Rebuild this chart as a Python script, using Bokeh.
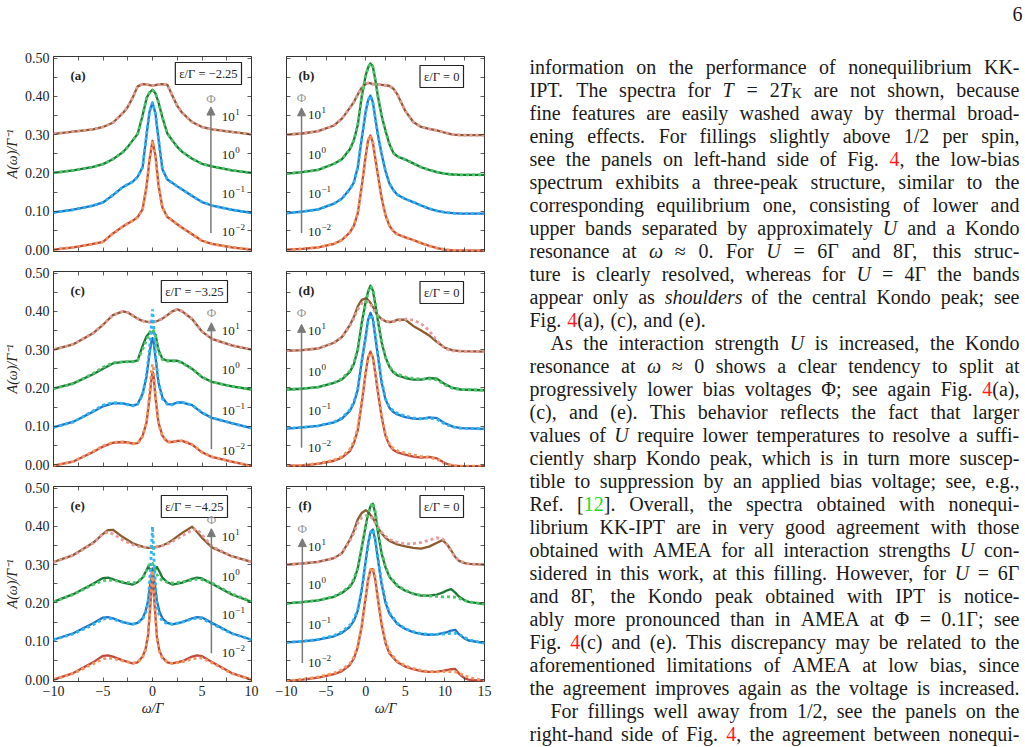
from bokeh.plotting import figure
from bokeh.models import (Range1d, LinearAxis, FixedTicker, Label, Arrow, NormalHead,
                          ColumnDataSource, NumeralTickFormatter, CustomJSTickFormatter)
from bokeh.layouts import row, column
from bokeh.embed import file_html
from bokeh.resources import INLINE
from bokeh.core.properties import value

SERIF = "Liberation Serif"

# ---------------- data ----------------
# curve order in every panel: Phi = 10^1, 10^0, 10^-1, 10^-2 (offset by 0.3, 0.2, 0.1, 0)
x_a = [-10, -8, -6, -5, -4, -3, -2.5, -2, -1.5, -1, -0.6, -0.3, 0, 0.3, 0.6, 1, 1.5, 2, 2.5, 3, 4, 5, 6, 8, 10]
a_p1 = [0.302, 0.308, 0.314, 0.320, 0.331, 0.356, 0.372, 0.397, 0.426, 0.432, 0.431, 0.429, 0.428, 0.429, 0.431, 0.432, 0.430, 0.402, 0.375, 0.357, 0.333, 0.320, 0.314, 0.307, 0.301]
a_p0 = [0.200, 0.207, 0.216, 0.223, 0.236, 0.254, 0.268, 0.285, 0.302, 0.350, 0.395, 0.410, 0.417, 0.408, 0.385, 0.345, 0.303, 0.285, 0.268, 0.255, 0.237, 0.224, 0.217, 0.207, 0.200]
a_m1 = [0.097, 0.104, 0.115, 0.123, 0.142, 0.163, 0.170, 0.177, 0.190, 0.215, 0.300, 0.360, 0.384, 0.355, 0.290, 0.210, 0.183, 0.174, 0.165, 0.157, 0.140, 0.124, 0.115, 0.104, 0.096]
a_m2 = [0.000, 0.006, 0.015, 0.020, 0.042, 0.060, 0.068, 0.075, 0.085, 0.105, 0.165, 0.235, 0.284, 0.245, 0.170, 0.110, 0.085, 0.076, 0.066, 0.057, 0.040, 0.023, 0.015, 0.006, 0.000]

x_b = [-10, -8, -6, -4, -3, -2, -1.5, -1, -0.5, 0, 0.3, 0.6, 0.9, 1.2, 1.5, 2, 2.5, 3, 3.5, 4, 5, 6, 7, 8, 9, 10, 11, 12, 15]
b_p1 = [0.300, 0.303, 0.309, 0.324, 0.342, 0.370, 0.385, 0.405, 0.423, 0.432, 0.435, 0.434, 0.432, 0.432, 0.431, 0.430, 0.429, 0.427, 0.420, 0.405, 0.362, 0.333, 0.320, 0.315, 0.311, 0.305, 0.300, 0.299, 0.299]
b_p0 = [0.198, 0.202, 0.208, 0.224, 0.236, 0.262, 0.285, 0.325, 0.400, 0.455, 0.475, 0.486, 0.478, 0.445, 0.405, 0.350, 0.310, 0.275, 0.252, 0.243, 0.235, 0.225, 0.215, 0.208, 0.202, 0.198, 0.196, 0.195, 0.195]
b_m1 = [0.095, 0.099, 0.105, 0.120, 0.133, 0.158, 0.175, 0.215, 0.290, 0.360, 0.390, 0.402, 0.385, 0.345, 0.305, 0.250, 0.205, 0.172, 0.155, 0.143, 0.132, 0.124, 0.115, 0.107, 0.101, 0.097, 0.095, 0.094, 0.094]
b_m2 = [0.000, 0.002, 0.006, 0.015, 0.025, 0.045, 0.062, 0.095, 0.165, 0.245, 0.285, 0.298, 0.280, 0.240, 0.200, 0.135, 0.090, 0.062, 0.048, 0.040, 0.032, 0.025, 0.017, 0.010, 0.004, 0.000, -0.002, -0.002, -0.003]

x_c = [-10, -8, -6, -5, -4, -3, -2.5, -2, -1.5, -1, -0.6, -0.3, -0.1, 0, 0.1, 0.3, 0.6, 1, 1.5, 2, 2.5, 3, 4, 5, 6, 8, 10]
c_p1 = [0.300, 0.314, 0.343, 0.365, 0.390, 0.400, 0.397, 0.389, 0.381, 0.375, 0.373, 0.372, 0.372, 0.372, 0.372, 0.373, 0.376, 0.381, 0.390, 0.400, 0.405, 0.400, 0.380, 0.347, 0.328, 0.311, 0.300]
c_p0 = [0.198, 0.212, 0.236, 0.250, 0.264, 0.268, 0.269, 0.269, 0.272, 0.310, 0.335, 0.344, 0.345, 0.345, 0.344, 0.340, 0.300, 0.276, 0.271, 0.271, 0.271, 0.266, 0.250, 0.228, 0.216, 0.204, 0.196]
c_p0_d = [0.198, 0.211, 0.238, 0.254, 0.266, 0.268, 0.268, 0.268, 0.272, 0.300, 0.325, 0.345, 0.352, 0.354, 0.350, 0.335, 0.295, 0.274, 0.270, 0.270, 0.270, 0.265, 0.250, 0.229, 0.216, 0.204, 0.196]
c_m1 = [0.097, 0.112, 0.138, 0.152, 0.160, 0.160, 0.157, 0.154, 0.158, 0.185, 0.230, 0.290, 0.322, 0.330, 0.322, 0.280, 0.215, 0.175, 0.158, 0.157, 0.162, 0.162, 0.155, 0.135, 0.122, 0.108, 0.095]
c_m1_d = [0.097, 0.111, 0.140, 0.155, 0.162, 0.160, 0.156, 0.153, 0.157, 0.182, 0.235, 0.300, 0.370, 0.405, 0.370, 0.290, 0.215, 0.172, 0.157, 0.156, 0.161, 0.163, 0.155, 0.136, 0.122, 0.108, 0.095]
c_m2 = [-0.003, 0.008, 0.033, 0.047, 0.057, 0.059, 0.058, 0.055, 0.056, 0.075, 0.110, 0.175, 0.225, 0.242, 0.235, 0.175, 0.110, 0.075, 0.060, 0.059, 0.062, 0.062, 0.052, 0.032, 0.020, 0.008, -0.004]
c_m2_d = [-0.003, 0.008, 0.034, 0.049, 0.058, 0.059, 0.057, 0.054, 0.055, 0.073, 0.110, 0.180, 0.245, 0.262, 0.250, 0.180, 0.108, 0.073, 0.059, 0.058, 0.061, 0.062, 0.053, 0.033, 0.020, 0.008, -0.004]

x_d = [-10, -8, -6, -4, -3, -2, -1.5, -1, -0.5, 0, 0.3, 0.6, 0.9, 1.2, 1.5, 2, 2.5, 3, 3.5, 4, 5, 6, 7, 8, 9, 10, 11, 12, 15]
d_p1 = [0.297, 0.299, 0.303, 0.318, 0.333, 0.364, 0.385, 0.413, 0.430, 0.434, 0.430, 0.422, 0.412, 0.400, 0.390, 0.380, 0.374, 0.372, 0.374, 0.378, 0.378, 0.362, 0.350, 0.337, 0.320, 0.305, 0.298, 0.296, 0.295]
d_p1_d = [0.297, 0.299, 0.303, 0.318, 0.333, 0.362, 0.382, 0.405, 0.420, 0.427, 0.425, 0.418, 0.408, 0.398, 0.390, 0.380, 0.375, 0.373, 0.373, 0.375, 0.380, 0.377, 0.368, 0.350, 0.323, 0.303, 0.297, 0.296, 0.295]
d_p0 = [0.196, 0.198, 0.202, 0.213, 0.222, 0.242, 0.262, 0.300, 0.370, 0.425, 0.452, 0.467, 0.455, 0.420, 0.380, 0.320, 0.280, 0.255, 0.240, 0.233, 0.226, 0.222, 0.222, 0.226, 0.224, 0.210, 0.200, 0.196, 0.194]
d_p0_d = [0.196, 0.198, 0.202, 0.214, 0.224, 0.245, 0.265, 0.300, 0.365, 0.420, 0.450, 0.466, 0.458, 0.425, 0.383, 0.322, 0.280, 0.256, 0.242, 0.236, 0.229, 0.225, 0.223, 0.224, 0.221, 0.208, 0.199, 0.196, 0.194]
d_m1 = [0.094, 0.097, 0.101, 0.110, 0.120, 0.140, 0.160, 0.195, 0.270, 0.335, 0.378, 0.396, 0.380, 0.335, 0.290, 0.215, 0.170, 0.148, 0.137, 0.131, 0.124, 0.120, 0.119, 0.123, 0.121, 0.108, 0.099, 0.095, 0.093]
d_m1_d = [0.094, 0.097, 0.101, 0.111, 0.122, 0.143, 0.163, 0.198, 0.270, 0.332, 0.372, 0.392, 0.382, 0.340, 0.295, 0.220, 0.172, 0.150, 0.140, 0.134, 0.127, 0.122, 0.120, 0.121, 0.118, 0.106, 0.098, 0.095, 0.093]
d_m2 = [-0.003, -0.002, 0.002, 0.010, 0.018, 0.035, 0.055, 0.090, 0.160, 0.240, 0.280, 0.295, 0.280, 0.240, 0.195, 0.125, 0.075, 0.050, 0.038, 0.032, 0.026, 0.021, 0.018, 0.020, 0.016, 0.004, -0.003, -0.004, -0.004]
d_m2_d = [-0.003, -0.002, 0.003, 0.012, 0.021, 0.040, 0.060, 0.095, 0.165, 0.240, 0.278, 0.292, 0.280, 0.243, 0.200, 0.130, 0.080, 0.054, 0.042, 0.036, 0.030, 0.025, 0.021, 0.019, 0.014, 0.003, -0.003, -0.004, -0.004]

x_e = [-10, -8, -6, -5, -4.5, -4, -3, -2, -1.5, -1, -0.7, -0.45, -0.2, 0, 0.2, 0.45, 0.7, 1, 1.5, 2, 3, 4, 4.5, 5, 6, 8, 10]
e_p1 = [0.307, 0.325, 0.357, 0.380, 0.390, 0.391, 0.372, 0.356, 0.351, 0.347, 0.345, 0.344, 0.344, 0.344, 0.345, 0.346, 0.348, 0.350, 0.356, 0.364, 0.383, 0.399, 0.385, 0.370, 0.345, 0.322, 0.307]
e_p1_d = [0.306, 0.324, 0.356, 0.381, 0.385, 0.380, 0.364, 0.352, 0.348, 0.346, 0.346, 0.346, 0.346, 0.346, 0.346, 0.347, 0.348, 0.350, 0.354, 0.360, 0.375, 0.390, 0.393, 0.378, 0.348, 0.322, 0.307]
e_p0 = [0.203, 0.223, 0.250, 0.265, 0.266, 0.262, 0.253, 0.248, 0.254, 0.266, 0.281, 0.294, 0.286, 0.280, 0.286, 0.294, 0.282, 0.266, 0.254, 0.248, 0.253, 0.263, 0.266, 0.264, 0.250, 0.222, 0.203]
e_p0_d = [0.203, 0.222, 0.248, 0.258, 0.260, 0.259, 0.255, 0.252, 0.256, 0.265, 0.278, 0.294, 0.306, 0.303, 0.290, 0.274, 0.265, 0.258, 0.254, 0.252, 0.255, 0.260, 0.262, 0.261, 0.252, 0.224, 0.204]
e_m1 = [0.104, 0.121, 0.147, 0.162, 0.163, 0.160, 0.150, 0.144, 0.148, 0.160, 0.178, 0.205, 0.255, 0.290, 0.255, 0.205, 0.178, 0.160, 0.148, 0.144, 0.150, 0.160, 0.163, 0.162, 0.148, 0.121, 0.104]
e_m1_d = [0.104, 0.119, 0.143, 0.158, 0.160, 0.158, 0.150, 0.145, 0.148, 0.158, 0.172, 0.200, 0.290, 0.400, 0.290, 0.190, 0.165, 0.152, 0.146, 0.145, 0.150, 0.158, 0.160, 0.159, 0.146, 0.120, 0.104]
e_m2 = [0.000, 0.017, 0.045, 0.062, 0.063, 0.060, 0.050, 0.042, 0.045, 0.060, 0.080, 0.115, 0.200, 0.280, 0.200, 0.110, 0.075, 0.058, 0.045, 0.042, 0.048, 0.060, 0.063, 0.061, 0.046, 0.017, 0.000]
e_m2_d = [0.000, 0.016, 0.041, 0.054, 0.056, 0.055, 0.049, 0.043, 0.045, 0.058, 0.078, 0.115, 0.205, 0.285, 0.205, 0.110, 0.073, 0.056, 0.045, 0.042, 0.046, 0.054, 0.056, 0.056, 0.044, 0.016, 0.000]

x_f = [-10, -8, -6, -4, -3, -2, -1.5, -1, -0.5, 0, 0.3, 0.6, 0.9, 1.2, 1.5, 2, 2.5, 3, 4, 5, 6, 7, 8, 9, 9.7, 10.3, 10.8, 11.3, 11.8, 12.5, 13, 15]
f_p1 = [0.300, 0.303, 0.307, 0.317, 0.330, 0.365, 0.388, 0.418, 0.435, 0.442, 0.438, 0.430, 0.422, 0.410, 0.398, 0.382, 0.370, 0.362, 0.353, 0.348, 0.344, 0.342, 0.347, 0.357, 0.364, 0.352, 0.337, 0.320, 0.310, 0.304, 0.302, 0.300]
f_p1_d = [0.300, 0.303, 0.307, 0.317, 0.330, 0.362, 0.383, 0.408, 0.423, 0.428, 0.428, 0.426, 0.420, 0.410, 0.400, 0.385, 0.374, 0.366, 0.358, 0.354, 0.355, 0.358, 0.364, 0.370, 0.368, 0.352, 0.336, 0.320, 0.310, 0.304, 0.302, 0.300]
f_p0 = [0.199, 0.202, 0.207, 0.216, 0.226, 0.242, 0.258, 0.290, 0.345, 0.402, 0.432, 0.452, 0.459, 0.435, 0.390, 0.330, 0.293, 0.268, 0.244, 0.232, 0.224, 0.219, 0.219, 0.222, 0.227, 0.233, 0.236, 0.227, 0.216, 0.207, 0.203, 0.197]
f_p0_d = [0.199, 0.202, 0.207, 0.217, 0.228, 0.245, 0.262, 0.292, 0.345, 0.400, 0.430, 0.452, 0.462, 0.440, 0.395, 0.333, 0.295, 0.270, 0.246, 0.233, 0.225, 0.220, 0.218, 0.217, 0.216, 0.216, 0.216, 0.215, 0.212, 0.206, 0.203, 0.197]
f_m1 = [0.097, 0.100, 0.104, 0.113, 0.122, 0.138, 0.153, 0.180, 0.235, 0.310, 0.355, 0.385, 0.392, 0.365, 0.320, 0.250, 0.200, 0.172, 0.145, 0.132, 0.124, 0.119, 0.117, 0.118, 0.121, 0.124, 0.128, 0.130, 0.118, 0.107, 0.102, 0.095]
f_m1_d = [0.097, 0.100, 0.105, 0.115, 0.125, 0.142, 0.157, 0.183, 0.235, 0.305, 0.350, 0.382, 0.392, 0.368, 0.325, 0.255, 0.205, 0.175, 0.147, 0.133, 0.125, 0.120, 0.118, 0.118, 0.119, 0.120, 0.121, 0.121, 0.118, 0.110, 0.104, 0.095]
f_m2 = [-0.004, 0.000, 0.005, 0.014, 0.022, 0.038, 0.055, 0.085, 0.140, 0.215, 0.260, 0.287, 0.288, 0.262, 0.215, 0.145, 0.095, 0.068, 0.045, 0.034, 0.027, 0.022, 0.020, 0.021, 0.023, 0.025, 0.027, 0.028, 0.015, 0.003, 0.000, -0.004]
f_m2_d = [-0.004, 0.001, 0.007, 0.017, 0.026, 0.042, 0.058, 0.088, 0.140, 0.212, 0.258, 0.287, 0.292, 0.268, 0.220, 0.150, 0.100, 0.072, 0.048, 0.036, 0.029, 0.024, 0.021, 0.020, 0.021, 0.021, 0.021, 0.020, 0.017, 0.010, 0.006, -0.003]

phi_exponents = ["1", "0", "\u22121", "\u22122"]
eps_labels = ["\u03b5/\u0393 = \u22122.25", "\u03b5/\u0393 = 0", "\u03b5/\u0393 = \u22123.25",
              "\u03b5/\u0393 = 0", "\u03b5/\u0393 = \u22124.25", "\u03b5/\u0393 = 0"]
panel_tags = ["(a)", "(b)", "(c)", "(d)", "(e)", "(f)"]

SOLID = ["#8c5c2e", "#1c7a34", "#1c74c4", "#c24a3a"]
DASHED = ["#e59a9b", "#4cc66a", "#30b4f2", "#f5975c"]

# ---------------- styling helpers ----------------
TXT = "#222222"
Y_RANGE = (-0.005, 0.504)


def make_axis(ticks, minor, show_labels, fmt=None, overrides=None, label=None, italic_label=True):
    ax = LinearAxis(ticker=FixedTicker(ticks=ticks, minor_ticks=minor))
    ax.axis_line_color = None
    ax.major_tick_in = 4
    ax.major_tick_out = 0
    ax.minor_tick_in = 4
    ax.minor_tick_out = 0
    ax.major_tick_line_color = "#333333"
    ax.minor_tick_line_color = "#333333"
    ax.major_tick_line_width = 0.8
    ax.minor_tick_line_width = 0.8
    if show_labels:
        ax.major_label_text_font = SERIF
        ax.major_label_text_font_size = "14px"
        ax.major_label_text_color = TXT
        ax.major_label_standoff = 4
        if fmt is not None:
            ax.formatter = fmt
        if overrides:
            ax.major_label_overrides = overrides
    else:
        ax.formatter = CustomJSTickFormatter(code="return ''")
        ax.major_label_text_font_size = "1px"
        ax.major_label_standoff = 0
    if label:
        ax.axis_label = label
        ax.axis_label_text_font = SERIF
        ax.axis_label_text_font_size = "14px"
        ax.axis_label_text_font_style = "italic" if italic_label else "normal"
        ax.axis_label_text_color = TXT
        ax.axis_label_standoff = 2
    return ax


def make_panel(idx, xs, solids, dashes, xr, width, height, borders, ylab, xlab, annot):
    left, right, top, bottom = borders
    p = figure(width=width, height=height, x_range=Range1d(*xr), y_range=Range1d(*Y_RANGE),
               output_backend="svg", toolbar_location=None,
               x_axis_location=None, y_axis_location=None,
               min_border_left=left, min_border_right=right,
               min_border_top=top, min_border_bottom=bottom)
    p.grid.visible = False
    p.outline_line_color = "#333333"
    p.outline_line_width = 1
    p.background_fill_color = "white"
    p.border_fill_color = "white"

    xmaj = [t for t in [-10, -5, 0, 5, 10, 15] if t <= xr[1]]
    xmin = [t for t in [-7.5, -2.5, 2.5, 7.5, 12.5] if t <= xr[1]]
    ymaj = [0.0, 0.1, 0.2, 0.3, 0.4, 0.5]
    ymin = [0.05, 0.15, 0.25, 0.35, 0.45]

    p.add_layout(make_axis(xmaj, xmin, xlab, overrides={-10: "\u221210", -5: "\u22125"},
                           label="\u03c9/\u0393" if xlab else None), "below")
    p.add_layout(make_axis(xmaj, xmin, False), "above")
    p.add_layout(make_axis(ymaj, ymin, ylab, fmt=NumeralTickFormatter(format="0.00"),
                           label="A(\u03c9)/\u0393\u207b\u00b9" if ylab else None), "left")
    p.add_layout(make_axis(ymaj, ymin, False), "right")

    for k in range(4):
        p.line(xs, solids[k], line_color=SOLID[k], line_width=2.3, line_join="round")
    for k in range(4):
        p.line(xs, dashes[k], line_color=DASHED[k], line_width=2.8, line_dash="3 3")

    # annotations
    a = annot
    p.add_layout(Label(x=xr[0], y=Y_RANGE[1], x_offset=a["tag_dx"], y_offset=-19,
                       text=panel_tags[idx], text_font=SERIF, text_font_size="13px",
                       text_font_style="bold", text_color=TXT, text_baseline="middle"))
    p.add_layout(Label(x=xr[1], y=Y_RANGE[1], x_offset=-a["box_dx"], y_offset=-a["box_dy"],
                       text=eps_labels[idx], text_font=SERIF, text_font_size="12.5px",
                       text_color=TXT, text_align="right", text_baseline="middle",
                       border_line_color="#222222", border_line_width=1.2,
                       background_fill_color="white", padding=4))
    p.add_layout(Arrow(end=NormalHead(size=8, fill_color="#7a7a7a", line_color="#7a7a7a"),
                       x_start=a["ax"], y_start=a["ay0"], x_end=a["ax"], y_end=a["ay1"],
                       line_color="#7a7a7a", line_width=1.5))
    p.add_layout(Label(x=a["ax"], y=a["phi_y"], text="\u03a6", text_font=SERIF,
                       text_font_size="13px", text_color="#9a9a9a",
                       text_align="center", text_baseline="middle"))
    for k in range(4):
        p.add_layout(Label(x=a["lx"], y=a["ly"][k], text="10", text_font=SERIF,
                           text_font_size="13px", text_color=TXT, text_baseline="middle"))
        p.add_layout(Label(x=a["lx"], y=a["ly"][k], x_offset=13.5, y_offset=5,
                           text=phi_exponents[k], text_font=SERIF, text_font_size="9px",
                           text_color=TXT, text_baseline="middle"))
    return p


ANN = [
    dict(tag_dx=17, box_dx=10, box_dy=17, ax=5.9, ay0=0.043, ay1=0.372, phi_y=0.395, lx=7.0,
         ly=[0.345, 0.246, 0.145, 0.046]),
    dict(tag_dx=12, box_dx=21, box_dy=20, ax=-8.1, ay0=0.043, ay1=0.370, phi_y=0.396, lx=-7.3,
         ly=[0.350, 0.247, 0.146, 0.046]),
    dict(tag_dx=17, box_dx=24, box_dy=20, ax=5.95, ay0=0.041, ay1=0.370, phi_y=0.396, lx=7.0,
         ly=[0.348, 0.247, 0.141, 0.035]),
    dict(tag_dx=12, box_dx=21, box_dy=21, ax=-8.1, ay0=0.044, ay1=0.366, phi_y=0.396, lx=-7.3,
         ly=[0.348, 0.242, 0.141, 0.044]),
    dict(tag_dx=17, box_dx=24, box_dy=20, ax=5.95, ay0=0.069, ay1=0.394, phi_y=0.418, lx=7.0,
         ly=[0.372, 0.268, 0.169, 0.069]),
    dict(tag_dx=12, box_dx=21, box_dy=20, ax=-8.0, ay0=0.043, ay1=0.368, phi_y=0.394, lx=-7.3,
         ly=[0.346, 0.247, 0.143, 0.043]),
]

LW, RW = 268, 232
ROWS = [(263, 56, 12), (215, 8, 12), (269, 8, 66)]

pa = make_panel(0, x_a, [a_p1, a_p0, a_m1, a_m2], [a_p1, a_p0, a_m1, a_m2], (-10, 10),
                LW, ROWS[0][0], (53, 17, ROWS[0][1], ROWS[0][2]), True, False, ANN[0])
pb = make_panel(1, x_b, [b_p1, b_p0, b_m1, b_m2], [b_p1, b_p0, b_m1, b_m2], (-10, 15),
                RW, ROWS[0][0], (18, 16, ROWS[0][1], ROWS[0][2]), False, False, ANN[1])
pc = make_panel(2, x_c, [c_p1, c_p0, c_m1, c_m2], [c_p1, c_p0_d, c_m1_d, c_m2_d], (-10, 10),
                LW, ROWS[1][0], (53, 17, ROWS[1][1], ROWS[1][2]), True, False, ANN[2])
pd = make_panel(3, x_d, [d_p1, d_p0, d_m1, d_m2], [d_p1_d, d_p0_d, d_m1_d, d_m2_d], (-10, 15),
                RW, ROWS[1][0], (18, 16, ROWS[1][1], ROWS[1][2]), False, False, ANN[3])
pe = make_panel(4, x_e, [e_p1, e_p0, e_m1, e_m2], [e_p1_d, e_p0_d, e_m1_d, e_m2_d], (-10, 10),
                LW, ROWS[2][0], (53, 17, ROWS[2][1], ROWS[2][2]), True, True, ANN[4])
pf = make_panel(5, x_f, [f_p1, f_p0, f_m1, f_m2], [f_p1_d, f_p0_d, f_m1_d, f_m2_d], (-10, 15),
                RW, ROWS[2][0], (18, 16, ROWS[2][1], ROWS[2][2]), False, True, ANN[5])

# ---------------- body text (right column) ----------------
TEXT_LINES = [
    "information on the performance of nonequilibrium KK-",
    "IPT. The spectra for ~T~ = 2~T~$K$ are not shown, because",
    "fine features are easily washed away by thermal broad-",
    "ening effects. For fillings slightly above 1/2 per spin,",
    "see the panels on left-hand side of Fig. #4#, the low-bias",
    "spectrum exhibits a three-peak structure, similar to the",
    "corresponding equilibrium one, consisting of lower and",
    "upper bands separated by approximately ~U~ and a Kondo",
    "resonance at ~\u03c9~ \u2248 0. For ~U~ = 6\u0393 and 8\u0393, this struc-",
    "ture is clearly resolved, whereas for ~U~ = 4\u0393 the bands",
    "appear only as ~shoulders~ of the central Kondo peak; see",
    "Fig. #4#(a), (c), and (e).",
    "As the interaction strength ~U~ is increased, the Kondo",
    "resonance at ~\u03c9~ \u2248 0 shows a clear tendency to split at",
    "progressively lower bias voltages \u03a6; see again Fig. #4#(a),",
    "(c), and (e). This behavior reflects the fact that larger",
    "values of ~U~ require lower temperatures to resolve a suffi-",
    "ciently sharp Kondo peak, which is in turn more suscep-",
    "tible to suppression by an applied bias voltage; see, e.g.,",
    "Ref. [@12@]. Overall, the spectra obtained with nonequi-",
    "librium KK-IPT are in very good agreement with those",
    "obtained with AMEA for all interaction strengths ~U~ con-",
    "sidered in this work, at this filling. However, for ~U~ = 6\u0393",
    "and 8\u0393, the Kondo peak obtained with IPT is notice-",
    "ably more pronounced than in AMEA at \u03a6 = 0.1\u0393; see",
    "Fig. #4#(c) and (e). This discrepancy may be related to the",
    "aforementioned limitations of AMEA at low bias, since",
    "the agreement improves again as the voltage is increased.",
    "For fillings well away from 1/2, see the panels on the",
    "right-hand side of Fig. #4#, the agreement between nonequi-",
]
INDENTED = {12, 28}
RAGGED = {11}

CW = {}
for ch, w in zip("abcdefghijklmnopqrstuvwxyz",
                 [444, 500, 444, 500, 444, 333, 500, 500, 278, 278, 500, 278, 778, 500, 500,
                  500, 500, 333, 389, 278, 500, 500, 722, 500, 500, 444]):
    CW[ch] = w
for ch, w in zip("ABCDEFGHIJKLMNOPQRSTUVWXYZ",
                 [722, 667, 667, 722, 611, 556, 722, 722, 333, 389, 722, 611, 889, 722, 722,
                  556, 722, 667, 556, 611, 722, 722, 944, 722, 722, 611]):
    CW[ch] = w
for ch in "0123456789":
    CW[ch] = 500
CW.update({".": 250, ",": 250, ";": 278, ":": 278, "-": 333, "(": 333, ")": 333, "[": 333,
           "]": 333, "/": 278, "=": 564, "\u2248": 549, "\u03c9": 660, "\u03a6": 760,
           "\u0393": 590})

FS = 20.0
TOP_BASE = 66.0
LEAD = 23.03
LEFT, RIGHT, INDENT = 529.0, 1019.0, 21.0


def parse(line):
    words, segs, st = [], [], {"i": False, "r": False, "g": False, "s": False}
    buf = [""]

    def flush():
        if buf[0]:
            segs.append((buf[0], dict(st)))
            buf[0] = ""

    for ch in line:
        if ch in "~#@$":
            flush()
            key = {"~": "i", "#": "r", "@": "g", "$": "s"}[ch]
            st[key] = not st[key]
        elif ch == " ":
            flush()
            if segs:
                words.append(list(segs))
                segs.clear()
        else:
            buf[0] += ch
    flush()
    if segs:
        words.append(list(segs))
    return words


def seg_width(text, st):
    size = FS * 0.7 if st["s"] else FS
    return sum(CW.get(c, 500) for c in text) * size / 1000.0


tx, ty, tt, tstyle, tcol, tsize = [], [], [], [], [], []
for i, line in enumerate(TEXT_LINES):
    words = parse(line)
    y = TOP_BASE + i * LEAD
    left = LEFT + (INDENT if i in INDENTED else 0.0)
    widths = [sum(seg_width(t, s) for t, s in w) for w in words]
    if i in RAGGED or len(words) < 2:
        gap = FS * 0.3
    else:
        gap = (RIGHT - left - sum(widths)) / (len(words) - 1)
    x = left
    for w, wd in zip(words, widths):
        sx = x
        for t, s in w:
            tx.append(sx)
            ty.append(y + (4.0 if s["s"] else 0.0))
            tt.append(t)
            tstyle.append("italic" if s["i"] else "normal")
            tcol.append("#ff1a1a" if s["r"] else ("#22dd22" if s["g"] else "#1a1a1a"))
            tsize.append("%.1fpx" % (FS * 0.7 if s["s"] else FS))
            sx += seg_width(t, s)
        x += wd + gap

# page number
tx.append(1012.0); ty.append(13.0); tt.append("6"); tstyle.append("normal")
tcol.append("#1a1a1a"); tsize.append("%.1fpx" % FS)

src = ColumnDataSource(dict(x=tx, y=ty, text=tt, style=tstyle, color=tcol, size=tsize))
pt = figure(width=525, height=747, x_range=Range1d(500, 1025), y_range=Range1d(747, 0),
            output_backend="svg", toolbar_location=None, min_border=0,
            x_axis_location=None, y_axis_location=None)
pt.grid.visible = False
pt.outline_line_color = None
pt.text(x="x", y="y", text="text", source=src, text_font=value(SERIF),
        text_font_size="size", text_font_style="style", text_color="color",
        text_baseline="alphabetic", text_align="left")

left_block = column(row(pa, pb, spacing=0), row(pc, pd, spacing=0), row(pe, pf, spacing=0),
                    spacing=0)
page = row(left_block, pt, spacing=0)

open("out.html", "w").write(file_html(page, INLINE))
